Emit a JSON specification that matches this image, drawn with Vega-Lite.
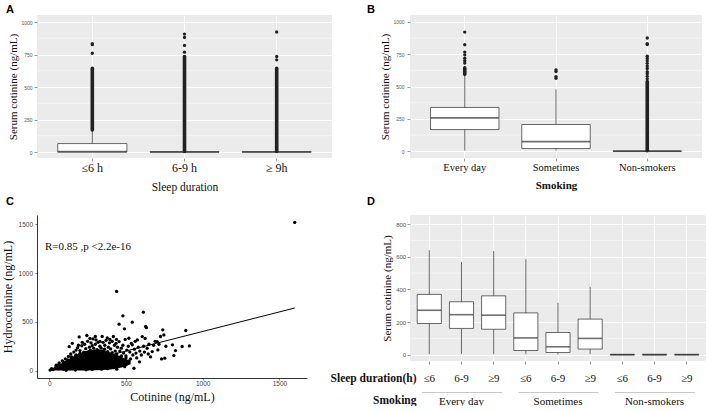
{
  "$schema": "https://vega.github.io/schema/vega-lite/v6.json",
  "background": "white",
  "padding": {"left": 1, "top": 4, "right": 0, "bottom": 0},
  "config": {
    "view": {"stroke": null},
    "axis": {"labelFont": "Liberation Sans", "titleFont": "Liberation Serif", "titleFontWeight": "normal", "titleColor": "#111", "labelColor": "#555", "tickColor": "#555", "domain": false, "labelOverlap": false},
    "title": {"font": "Liberation Sans", "fontSize": 11, "fontWeight": "bold", "anchor": "start", "frame": "group", "color": "#000"}
  },
  "datasets": {
    "minor1000": [{"v": 125}, {"v": 375}, {"v": 625}, {"v": 875}],
    "minor800": [{"v": 100}, {"v": 300}, {"v": 500}, {"v": 700}],
    "sleepBox": [
      {"sleep": "≤6 h", "lo": 0, "q1": 0, "med": 3, "q3": 65, "hi": 168},
      {"sleep": "6-9 h", "lo": 0, "q1": 0, "med": 0, "q3": 2, "hi": 3},
      {"sleep": "≥ 9h", "lo": 0, "q1": 0, "med": 0, "q3": 2, "hi": 3}
    ],
    "sleepDense": [
      {"sleep": "≤6 h", "lo": 170, "hi": 644},
      {"sleep": "6-9 h", "lo": 4, "hi": 735},
      {"sleep": "≥ 9h", "lo": 4, "hi": 644}
    ],
    "sleepOut": [
      {"sleep": "≤6 h", "value": 760}, {"sleep": "≤6 h", "value": 826}, {"sleep": "≤6 h", "value": 834},
      {"sleep": "6-9 h", "value": 768}, {"sleep": "6-9 h", "value": 820}, {"sleep": "6-9 h", "value": 881}, {"sleep": "6-9 h", "value": 907},
      {"sleep": "≥ 9h", "value": 709}, {"sleep": "≥ 9h", "value": 735}, {"sleep": "≥ 9h", "value": 923}
    ],
    "smokeBox": [
      {"smoking": "Every day", "lo": 5, "q1": 168, "med": 258, "q3": 339, "hi": 585},
      {"smoking": "Sometimes", "lo": 5, "q1": 21, "med": 75, "q3": 207, "hi": 479},
      {"smoking": "Non-smokers", "lo": 0, "q1": 0, "med": 0, "q3": 2, "hi": 3}
    ],
    "smokeDense": [
      {"smoking": "Every day", "lo": 595, "hi": 645},
      {"smoking": "Non-smokers", "lo": 4, "hi": 540}
    ],
    "smokeOut": [
      {"smoking": "Every day", "value": 682}, {"smoking": "Every day", "value": 700}, {"smoking": "Every day", "value": 720}, {"smoking": "Every day", "value": 746}, {"smoking": "Every day", "value": 767}, {"smoking": "Every day", "value": 824}, {"smoking": "Every day", "value": 922},
      {"smoking": "Sometimes", "value": 565}, {"smoking": "Sometimes", "value": 578}, {"smoking": "Sometimes", "value": 617}, {"smoking": "Sometimes", "value": 630},
      {"smoking": "Non-smokers", "value": 560}, {"smoking": "Non-smokers", "value": 580}, {"smoking": "Non-smokers", "value": 600}, {"smoking": "Non-smokers", "value": 615}, {"smoking": "Non-smokers", "value": 640}, {"smoking": "Non-smokers", "value": 660}, {"smoking": "Non-smokers", "value": 680}, {"smoking": "Non-smokers", "value": 700}, {"smoking": "Non-smokers", "value": 718}, {"smoking": "Non-smokers", "value": 735}, {"smoking": "Non-smokers", "value": 826}, {"smoking": "Non-smokers", "value": 833}, {"smoking": "Non-smokers", "value": 876}
    ],
    "core": [
      {"cot": 0, "lo": 0, "hi": 10}, {"cot": 50, "lo": 0, "hi": 45}, {"cot": 100, "lo": 0, "hi": 95}, {"cot": 150, "lo": 0, "hi": 140},
      {"cot": 200, "lo": 0, "hi": 180}, {"cot": 250, "lo": 0, "hi": 205}, {"cot": 300, "lo": 3, "hi": 215}, {"cot": 350, "lo": 5, "hi": 210},
      {"cot": 400, "lo": 10, "hi": 185}, {"cot": 450, "lo": 25, "hi": 155}, {"cot": 500, "lo": 45, "hi": 120}, {"cot": 530, "lo": 65, "hi": 95}
    ],
    "scatter": [
      {"cot": 5, "hyd": 5}, {"cot": 15, "hyd": 20}, {"cot": 25, "hyd": 10}, {"cot": 40, "hyd": 30}, {"cot": 45, "hyd": 55}, {"cot": 60, "hyd": 20}, {"cot": 65, "hyd": 80}, {"cot": 80, "hyd": 45}, {"cot": 85, "hyd": 100}, {"cot": 95, "hyd": 15},
      {"cot": 105, "hyd": 120}, {"cot": 115, "hyd": 60}, {"cot": 125, "hyd": 145}, {"cot": 130, "hyd": 245}, {"cot": 135, "hyd": 20}, {"cot": 140, "hyd": 170}, {"cot": 150, "hyd": 280}, {"cot": 155, "hyd": 100}, {"cot": 160, "hyd": 190}, {"cot": 170, "hyd": 150},
      {"cot": 175, "hyd": 210}, {"cot": 185, "hyd": 235}, {"cot": 190, "hyd": 60}, {"cot": 195, "hyd": 345}, {"cot": 200, "hyd": 205}, {"cot": 205, "hyd": 120}, {"cot": 212, "hyd": 255}, {"cot": 220, "hyd": 30}, {"cot": 225, "hyd": 190}, {"cot": 230, "hyd": 270},
      {"cot": 238, "hyd": 225}, {"cot": 245, "hyd": 360}, {"cot": 250, "hyd": 300}, {"cot": 255, "hyd": 160}, {"cot": 262, "hyd": 240}, {"cot": 268, "hyd": 210}, {"cot": 272, "hyd": 285}, {"cot": 280, "hyd": 255}, {"cot": 285, "hyd": 325}, {"cot": 290, "hyd": 230},
      {"cot": 295, "hyd": 100}, {"cot": 300, "hyd": 270}, {"cot": 305, "hyd": 315}, {"cot": 312, "hyd": 215}, {"cot": 318, "hyd": 290}, {"cot": 325, "hyd": 40}, {"cot": 330, "hyd": 250}, {"cot": 338, "hyd": 230}, {"cot": 345, "hyd": 350}, {"cot": 350, "hyd": 290},
      {"cot": 355, "hyd": 150}, {"cot": 362, "hyd": 260}, {"cot": 370, "hyd": 310}, {"cot": 378, "hyd": 335}, {"cot": 385, "hyd": 240}, {"cot": 392, "hyd": 285}, {"cot": 400, "hyd": 222}, {"cot": 405, "hyd": 60}, {"cot": 410, "hyd": 300}, {"cot": 418, "hyd": 350},
      {"cot": 425, "hyd": 260}, {"cot": 430, "hyd": 200}, {"cot": 438, "hyd": 320}, {"cot": 445, "hyd": 240}, {"cot": 450, "hyd": 110}, {"cot": 455, "hyd": 476}, {"cot": 455, "hyd": 298}, {"cot": 460, "hyd": 200}, {"cot": 465, "hyd": 140}, {"cot": 470, "hyd": 230},
      {"cot": 475, "hyd": 100}, {"cot": 480, "hyd": 562}, {"cot": 480, "hyd": 260}, {"cot": 485, "hyd": 180}, {"cot": 490, "hyd": 428}, {"cot": 492, "hyd": 40}, {"cot": 495, "hyd": 320}, {"cot": 500, "hyd": 150}, {"cot": 505, "hyd": 210}, {"cot": 510, "hyd": 90},
      {"cot": 515, "hyd": 250}, {"cot": 519, "hyd": 332}, {"cot": 525, "hyd": 190}, {"cot": 530, "hyd": 120}, {"cot": 535, "hyd": 280}, {"cot": 541, "hyd": 497}, {"cot": 541, "hyd": 264}, {"cot": 545, "hyd": 160}, {"cot": 552, "hyd": 24}, {"cot": 555, "hyd": 220},
      {"cot": 560, "hyd": 300}, {"cot": 565, "hyd": 180}, {"cot": 570, "hyd": 130}, {"cot": 574, "hyd": 315}, {"cot": 580, "hyd": 240}, {"cot": 588, "hyd": 90}, {"cot": 590, "hyd": 200}, {"cot": 600, "hyd": 160}, {"cot": 606, "hyd": 349}, {"cot": 613, "hyd": 599},
      {"cot": 615, "hyd": 250}, {"cot": 620, "hyd": 190}, {"cot": 625, "hyd": 330}, {"cot": 628, "hyd": 452}, {"cot": 633, "hyd": 440}, {"cot": 638, "hyd": 229}, {"cot": 645, "hyd": 170}, {"cot": 650, "hyd": 270}, {"cot": 660, "hyd": 140}, {"cot": 671, "hyd": 195},
      {"cot": 680, "hyd": 260}, {"cot": 690, "hyd": 300}, {"cot": 703, "hyd": 298}, {"cot": 708, "hyd": 212}, {"cot": 715, "hyd": 270}, {"cot": 725, "hyd": 350}, {"cot": 732, "hyd": 120}, {"cot": 740, "hyd": 418}, {"cot": 747, "hyd": 366}, {"cot": 753, "hyd": 127},
      {"cot": 760, "hyd": 250}, {"cot": 803, "hyd": 264}, {"cot": 812, "hyd": 154}, {"cot": 823, "hyd": 205}, {"cot": 866, "hyd": 247}, {"cot": 890, "hyd": 411}, {"cot": 913, "hyd": 253}, {"cot": 1600, "hyd": 1520}, {"cot": 439, "hyd": 812},
      {"cot": 110, "hyd": 3}, {"cot": 170, "hyd": 5}, {"cot": 240, "hyd": 8}, {"cot": 280, "hyd": 12}, {"cot": 340, "hyd": 15}, {"cot": 380, "hyd": 20}, {"cot": 420, "hyd": 30}, {"cot": 440, "hyd": 15}, {"cot": 470, "hyd": 50},
      {"cot": 60, "hyd": 60}, {"cot": 90, "hyd": 90}, {"cot": 120, "hyd": 110}, {"cot": 145, "hyd": 140}, {"cot": 175, "hyd": 160}, {"cot": 200, "hyd": 175}, {"cot": 230, "hyd": 185}, {"cot": 260, "hyd": 195}, {"cot": 290, "hyd": 200}, {"cot": 320, "hyd": 205},
      {"cot": 350, "hyd": 200}, {"cot": 380, "hyd": 195}, {"cot": 410, "hyd": 185}, {"cot": 440, "hyd": 170}, {"cot": 470, "hyd": 150}, {"cot": 500, "hyd": 130}, {"cot": 520, "hyd": 100}, {"cot": 190, "hyd": 260}, {"cot": 215, "hyd": 290}, {"cot": 265, "hyd": 330},
      {"cot": 330, "hyd": 300}, {"cot": 360, "hyd": 220}, {"cot": 395, "hyd": 320}, {"cot": 435, "hyd": 280}, {"cot": 300, "hyd": 350}
    ],
    "fit": [{"cot": 0, "hyd": 0}, {"cot": 1600, "hyd": 642}],
    "note": [{"cot": -28, "hyd": 1268, "label": "R=0.85 ,p <2.2e-16"}],
    "dBox": [
      {"key": "Every day|≤6", "lo": 5, "q1": 192, "med": 273, "q3": 370, "hi": 640},
      {"key": "Every day|6-9", "lo": 5, "q1": 162, "med": 246, "q3": 325, "hi": 569},
      {"key": "Every day|≥9", "lo": 5, "q1": 157, "med": 243, "q3": 361, "hi": 635},
      {"key": "Sometimes|≤6", "lo": 5, "q1": 27, "med": 104, "q3": 257, "hi": 585},
      {"key": "Sometimes|6-9", "lo": 3, "q1": 15, "med": 50, "q3": 137, "hi": 318},
      {"key": "Sometimes|≥9", "lo": 5, "q1": 36, "med": 101, "q3": 219, "hi": 416},
      {"key": "Non-smokers|≤6", "lo": 0, "q1": 0, "med": 2, "q3": 3, "hi": 4},
      {"key": "Non-smokers|6-9", "lo": 0, "q1": 0, "med": 2, "q3": 3, "hi": 4},
      {"key": "Non-smokers|≥9", "lo": 0, "q1": 0, "med": 2, "q3": 3, "hi": 4}
    ],
    "dGroups": [{"smoking": "Every day"}, {"smoking": "Sometimes"}, {"smoking": "Non-smokers"}]
  },
  "concat": [
    {
      "width": 295, "height": 143,
      "title": {"text": "A", "dx": -31, "offset": 0},
      "view": {"fill": "#EBEBEB", "stroke": null},
      "layer": [
        {"data": {"name": "minor1000"}, "mark": {"type": "rule", "color": "white", "strokeWidth": 0.5},
          "encoding": {"y": {"field": "v", "type": "quantitative", "title": "Serum cotinine (ng/mL)",
            "scale": {"domain": [-46, 1054], "nice": false, "zero": false},
            "axis": {"values": [0, 250, 500, 750, 1000], "tickCount": 20, "format": "d", "grid": true, "gridColor": "white", "gridWidth": 1, "tickSize": 3, "tickWidth": 0.6, "labelFontSize": 5, "labelPadding": 2, "titleFont": "Liberation Serif", "titleFontSize": 11, "titlePadding": 2}}}},
        {
          "encoding": {
            "x": {"field": "sleep", "type": "nominal", "sort": ["≤6 h", "6-9 h", "≥ 9h"], "title": "Sleep duration",
              "scale": {"paddingInner": 0, "paddingOuter": 0.1},
              "axis": {"bandPosition": 0.5, "grid": true, "gridColor": "white", "gridWidth": 1, "ticks": true, "tickSize": 3, "tickWidth": 0.6, "labelAngle": 0, "labelFont": "Liberation Serif", "labelFontSize": 12, "labelColor": "#111", "labelPadding": 1, "titleFont": "Liberation Serif", "titleFontSize": 11.5, "titlePadding": 8}}
          },
          "layer": [
            {"data": {"name": "sleepBox"}, "mark": {"type": "rule", "color": "#444", "strokeWidth": 0.8},
              "encoding": {"y": {"field": "lo", "type": "quantitative", "title": "Serum cotinine (ng/mL)"}, "y2": {"field": "hi"}}},
            {"data": {"name": "sleepBox"}, "mark": {"type": "bar", "fill": "white", "stroke": "#444", "strokeWidth": 0.8, "width": {"band": 0.75}},
              "encoding": {"y": {"field": "q1", "type": "quantitative", "title": "Serum cotinine (ng/mL)"}, "y2": {"field": "q3"}}},
            {"data": {"name": "sleepBox"}, "mark": {"type": "tick", "color": "#333", "thickness": 1.6, "size": 69},
              "encoding": {"y": {"field": "med", "type": "quantitative", "title": "Serum cotinine (ng/mL)"}}},
            {"data": {"name": "sleepDense"}, "mark": {"type": "rule", "color": "#222", "strokeWidth": 3.6, "strokeCap": "round"},
              "encoding": {"y": {"field": "lo", "type": "quantitative", "title": "Serum cotinine (ng/mL)"}, "y2": {"field": "hi"}}},
            {"data": {"name": "sleepOut"}, "mark": {"type": "circle", "color": "#222", "size": 11, "opacity": 1},
              "encoding": {"y": {"field": "value", "type": "quantitative", "title": "Serum cotinine (ng/mL)"}}}
          ]
        }
      ]
    },
    {
      "width": 292, "height": 143,
      "title": {"text": "B", "dx": -43, "offset": 0},
      "view": {"fill": "#EBEBEB", "stroke": null},
      "layer": [
        {"data": {"name": "minor1000"}, "mark": {"type": "rule", "color": "white", "strokeWidth": 0.5},
          "encoding": {"y": {"field": "v", "type": "quantitative", "title": "Serum cotinine (ng/mL)",
            "scale": {"domain": [-52, 1054], "nice": false, "zero": false},
            "axis": {"values": [0, 250, 500, 750, 1000], "tickCount": 20, "format": "d", "grid": true, "gridColor": "white", "gridWidth": 1, "tickSize": 3, "tickWidth": 0.6, "labelFontSize": 5, "labelPadding": 3, "titleFont": "Liberation Serif", "titleFontSize": 11, "titlePadding": 2}}}},
        {
          "encoding": {
            "x": {"field": "smoking", "type": "nominal", "sort": ["Every day", "Sometimes", "Non-smokers"], "title": "Smoking",
              "scale": {"paddingInner": 0, "paddingOuter": 0.1},
              "axis": {"bandPosition": 0.5, "grid": true, "gridColor": "white", "gridWidth": 1, "ticks": true, "tickSize": 3, "tickWidth": 0.6, "labelAngle": 0, "labelFont": "Liberation Serif", "labelFontSize": 10.5, "labelColor": "#111", "labelPadding": 1.5, "titleFont": "Liberation Serif", "titleFontSize": 11, "titleFontWeight": "bold", "titlePadding": 6}}
          },
          "layer": [
            {"data": {"name": "smokeBox"}, "mark": {"type": "rule", "color": "#444", "strokeWidth": 0.8},
              "encoding": {"y": {"field": "lo", "type": "quantitative", "title": "Serum cotinine (ng/mL)"}, "y2": {"field": "hi"}}},
            {"data": {"name": "smokeBox"}, "mark": {"type": "bar", "fill": "white", "stroke": "#444", "strokeWidth": 0.8, "width": {"band": 0.75}},
              "encoding": {"y": {"field": "q1", "type": "quantitative", "title": "Serum cotinine (ng/mL)"}, "y2": {"field": "q3"}}},
            {"data": {"name": "smokeBox"}, "mark": {"type": "tick", "color": "#333", "thickness": 1.6, "size": 68},
              "encoding": {"y": {"field": "med", "type": "quantitative", "title": "Serum cotinine (ng/mL)"}}},
            {"data": {"name": "smokeDense"}, "mark": {"type": "rule", "color": "#222", "strokeWidth": 3.6, "strokeCap": "round"},
              "encoding": {"y": {"field": "lo", "type": "quantitative", "title": "Serum cotinine (ng/mL)"}, "y2": {"field": "hi"}}},
            {"data": {"name": "smokeOut"}, "mark": {"type": "circle", "color": "#222", "size": 11, "opacity": 1},
              "encoding": {"y": {"field": "value", "type": "quantitative", "title": "Serum cotinine (ng/mL)"}}}
          ]
        }
      ]
    },
    {
      "width": 270, "height": 163,
      "title": {"text": "C", "dx": -31, "offset": 8},
      "view": {"fill": "white", "stroke": null},
      "layer": [
        {"data": {"name": "core"}, "mark": {"type": "area", "color": "#000", "opacity": 1},
          "encoding": {
            "x": {"field": "cot", "type": "quantitative", "title": "Cotinine (ng/mL)", "scale": {"domain": [-80, 1680], "nice": false, "zero": false},
              "axis": {"values": [0, 500, 1000, 1500], "tickCount": 20, "format": "d", "domain": true, "domainColor": "#000", "domainWidth": 0.8, "ticks": true, "tickColor": "#333", "tickSize": 2, "tickWidth": 0.6, "grid": false, "labelFontSize": 6.5, "labelColor": "#444", "labelPadding": 0, "titleFont": "Liberation Serif", "titleFontSize": 12, "titlePadding": 5}},
            "y": {"field": "lo", "type": "quantitative", "title": "Hydrocotinine (ng/mL)", "scale": {"domain": [-76, 1596], "nice": false, "zero": false},
              "axis": {"values": [0, 500, 1000, 1500], "tickCount": 20, "format": "d", "domain": true, "domainColor": "#000", "domainWidth": 0.8, "ticks": true, "tickColor": "#333", "tickSize": 2, "tickWidth": 0.6, "grid": false, "labelFontSize": 6.5, "labelColor": "#444", "labelPadding": 2.5, "titleFont": "Liberation Serif", "titleFontSize": 12, "titlePadding": 4}},
            "y2": {"field": "hi"}}},
        {"data": {"name": "scatter"}, "mark": {"type": "circle", "color": "#000", "size": 11, "opacity": 1},
          "encoding": {"x": {"field": "cot", "type": "quantitative", "title": "Cotinine (ng/mL)"}, "y": {"field": "hyd", "type": "quantitative", "title": "Hydrocotinine (ng/mL)"}}},
        {"data": {"name": "fit"}, "mark": {"type": "line", "color": "#000", "strokeWidth": 1},
          "encoding": {"x": {"field": "cot", "type": "quantitative", "title": "Cotinine (ng/mL)"}, "y": {"field": "hyd", "type": "quantitative", "title": "Hydrocotinine (ng/mL)"}}},
        {"data": {"name": "note"}, "mark": {"type": "text", "align": "left", "baseline": "middle", "font": "Liberation Serif", "fontSize": 11, "color": "#111"},
          "encoding": {"x": {"field": "cot", "type": "quantitative", "title": "Cotinine (ng/mL)"}, "y": {"field": "hyd", "type": "quantitative", "title": "Hydrocotinine (ng/mL)"}, "text": {"field": "label"}}}
      ]
    },
    {
      "width": 296, "height": 146,
      "title": {"text": "D", "dx": -43, "offset": 8},
      "view": {"fill": "#EBEBEB", "stroke": null},
      "resolve": {"scale": {"x": "independent"}, "axis": {"x": "independent"}},
      "layer": [
        {"data": {"name": "minor800"}, "mark": {"type": "rule", "color": "white", "strokeWidth": 0.5},
          "encoding": {"y": {"field": "v", "type": "quantitative", "title": "Serum cotinine (ng/mL)",
            "scale": {"domain": [-37, 855], "nice": false, "zero": false},
            "axis": {"values": [0, 200, 400, 600, 800], "tickCount": 20, "format": "d", "grid": true, "gridColor": "white", "gridWidth": 1, "tickSize": 3, "tickWidth": 0.6, "labelFontSize": 6, "labelPadding": 1.3, "titleFont": "Liberation Serif", "titleFontSize": 11, "titlePadding": 3}}}},
        {
          "data": {"name": "dBox"},
          "encoding": {
            "x": {"field": "key", "type": "nominal", "sort": null, "title": "Sleep duration(h)",
              "scale": {"paddingInner": 0, "paddingOuter": 0.1},
              "axis": {"labelExpr": "split(datum.label, '|')[1]", "bandPosition": 0.5, "grid": true, "gridColor": "white", "gridWidth": 1, "ticks": true, "tickSize": 3, "tickWidth": 0.6, "labelAngle": 0, "labelFont": "Liberation Serif", "labelFontSize": 11, "labelColor": "#111", "labelPadding": 8, "titleFont": "Liberation Serif", "titleFontSize": 11.5, "titleFontWeight": "bold", "titleX": 6, "titleY": 17, "titleAlign": "right", "titleBaseline": "middle", "titleAngle": 0}}
          },
          "layer": [
            {"mark": {"type": "rule", "color": "#444", "strokeWidth": 0.8},
              "encoding": {"y": {"field": "lo", "type": "quantitative", "title": "Serum cotinine (ng/mL)"}, "y2": {"field": "hi"}}},
            {"mark": {"type": "bar", "fill": "white", "stroke": "#444", "strokeWidth": 0.8, "width": {"band": 0.75}},
              "encoding": {"y": {"field": "q1", "type": "quantitative", "title": "Serum cotinine (ng/mL)"}, "y2": {"field": "q3"}}},
            {"mark": {"type": "tick", "color": "#333", "thickness": 1.6, "size": 24},
              "encoding": {"y": {"field": "med", "type": "quantitative", "title": "Serum cotinine (ng/mL)"}}}
          ]
        },
        {
          "data": {"name": "dGroups"},
          "mark": {"type": "rule", "opacity": 0},
          "encoding": {
            "x": {"field": "smoking", "type": "nominal", "sort": null, "title": "Smoking",
              "scale": {"paddingInner": 0, "paddingOuter": 0.0333},
              "axis": {"orient": "bottom", "offset": 31, "domain": true, "domainColor": "#BBBBBB", "domainWidth": 0.8, "domainDash": [80, 16.52], "domainDashOffset": 85, "ticks": false, "grid": false, "labelAngle": 0, "labelFont": "Liberation Serif", "labelFontSize": 11, "labelColor": "#111", "labelPadding": 3, "titleFont": "Liberation Serif", "titleFontSize": 11.5, "titleFontWeight": "bold", "titleX": 6, "titleY": 8, "titleAlign": "right", "titleBaseline": "middle", "titleAngle": 0}}
          }
        }
      ]
    }
  ],
  "columns": 2,
  "spacing": {"row": 57, "column": 78},
  "bounds": "flush",
  "align": "each"
}
